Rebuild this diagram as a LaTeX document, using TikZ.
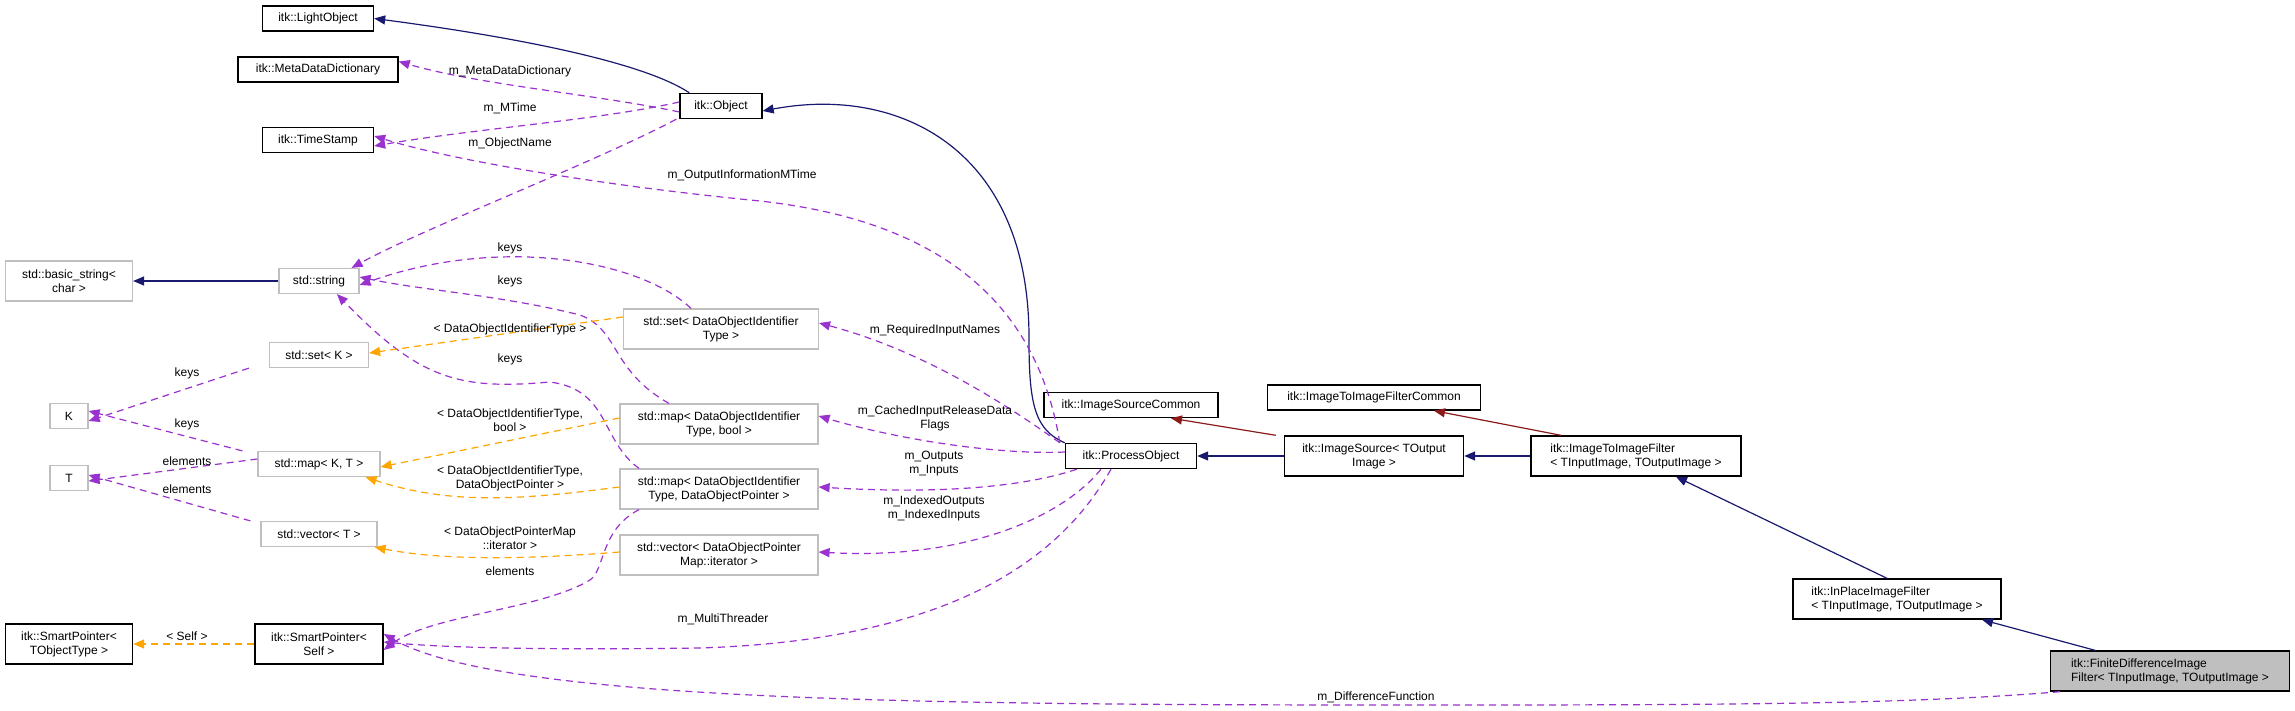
\documentclass[tikz,border=0pt]{standalone}
\usepackage{fontspec}
\setmainfont{Liberation Sans}
\usetikzlibrary{arrows.meta}
\definecolor{navy}{HTML}{191970}
\definecolor{dred}{HTML}{8B1A1A}
\definecolor{purp}{HTML}{9A32CD}
\definecolor{orng}{HTML}{FFA500}
\definecolor{gbox}{HTML}{BFBFBF}
\tikzset{
  cls/.style={draw=black,line width=1.4pt,inner sep=0pt,font=\fontsize{12}{14}\selectfont,align=center,minimum height=25pt,fill=white},
  stdc/.style={cls,draw=gbox,line width=1.2pt},
  tall/.style={minimum height=40pt},
  lbl/.style={font=\fontsize{12}{14}\selectfont,align=center,inner sep=0pt},
  tip/.style={-{Triangle[length=11pt,width=9pt]}},
  inh/.style={tip,draw=navy,line width=1.2pt,-{Triangle[length=11pt,width=9pt,fill=navy]}},
  prot/.style={draw=dred,line width=1.2pt,-{Triangle[length=11pt,width=9pt,fill=dred]}},
  use/.style={draw=purp,line width=1.2pt,dash pattern=on 7pt off 5pt,-{Triangle[length=11pt,width=9pt,fill=purp]}},
  tmpl/.style={draw=orng,line width=1.2pt,dash pattern=on 7pt off 5pt,-{Triangle[length=11pt,width=9pt,fill=orng]}},
}
\begin{document}
\begin{tikzpicture}[x=1pt,y=-1pt]
\useasboundingbox (0,0) rectangle (2295,711);
% nodes
\node[cls,minimum width=111pt] (lo) at (318,18.5) {itk::LightObject};
\node[cls,minimum width=160pt] (mdd) at (318,69.5) {itk::MetaDataDictionary};
\node[cls,minimum width=111pt] (ts) at (318,140) {itk::TimeStamp};
\node[cls,minimum width=82pt] (obj) at (721,106) {itk::Object};
\node[stdc,tall,minimum width=127pt] (bs) at (69,281) {std::basic\_string\textless\\char \textgreater};
\node[stdc,minimum width=80pt] (str) at (319,281) {std::string};
\node[stdc,tall,minimum width=195pt] (setd) at (721,329) {std::set\textless{} DataObjectIdentifier\\Type \textgreater};
\node[stdc,minimum width=99pt] (setk) at (319,355) {std::set\textless{} K \textgreater};
\node[stdc,minimum width=38pt] (K) at (69,416) {K};
\node[stdc,minimum width=122pt] (mapkt) at (319,464) {std::map\textless{} K, T \textgreater};
\node[stdc,minimum width=38pt] (T) at (69,478) {T};
\node[stdc,minimum width=116pt] (vect) at (319,534) {std::vector\textless{} T \textgreater};
\node[cls,tall,minimum width=127pt] (spt) at (69,644) {itk::SmartPointer\textless\\TObjectType \textgreater};
\node[cls,tall,minimum width=128pt] (sps) at (319,644) {itk::SmartPointer\textless\\Self \textgreater};
\node[stdc,tall,minimum width=198pt] (mapb) at (719,424) {std::map\textless{} DataObjectIdentifier\\Type, bool \textgreater};
\node[stdc,tall,minimum width=198pt] (mapd) at (719,489) {std::map\textless{} DataObjectIdentifier\\Type, DataObjectPointer \textgreater};
\node[stdc,tall,minimum width=198pt] (vecd) at (719,555) {std::vector\textless{} DataObjectPointer\\Map::iterator \textgreater};
\node[cls,minimum width=131pt] (po) at (1131,456) {itk::ProcessObject};
\node[cls,minimum width=174pt] (isc) at (1131,405) {itk::ImageSourceCommon};
\node[cls,minimum width=213pt] (itifc) at (1374,397.5) {itk::ImageToImageFilterCommon};
\node[cls,tall,minimum width=179pt] (is) at (1374,456) {itk::ImageSource\textless{} TOutput\\Image \textgreater};
\node[cls,tall,minimum width=210pt,align=left] (itif) at (1636,456) {itk::ImageToImageFilter\\\textless{} TInputImage, TOutputImage \textgreater};
\node[cls,tall,minimum width=208pt,align=left] (ipf) at (1897,599) {itk::InPlaceImageFilter\\\textless{} TInputImage, TOutputImage \textgreater};
\node[cls,tall,minimum width=239pt,align=left,fill=gbox] (fd) at (2170,671) {itk::FiniteDifferenceImage\\Filter\textless{} TInputImage, TOutputImage \textgreater};
% inheritance
\draw[inh] ([xshift=10pt]obj.north west) .. controls (640,60) and (500,35) .. (lo.east);
\draw[inh] (po.north west) .. controls (1035,430) and (1029,405) .. (1029,340) .. controls (1030,150) and (900,85) .. ([yshift=-5pt]obj.east);
\draw[inh] (str.west) -- (bs.east);
\draw[inh] (is.west) -- (po.east);
\draw[inh] (itif.west) -- (is.east);
\draw[inh] ([xshift=-10pt]ipf.north) -- ([xshift=40pt]itif.south);
\draw[inh] ([xshift=-75pt]fd.north) -- ([xshift=85pt]ipf.south);
\draw[prot] ([xshift=-8pt]is.north west) -- ([xshift=40pt]isc.south);
\draw[prot] ([xshift=-75pt]itif.north) -- ([xshift=60pt]itifc.south);
% usage
\draw[use] ([yshift=-6pt]obj.west) .. controls (600,95) and (480,85) .. ([yshift=8pt]mdd.east);
\draw[use] ([yshift=4pt]obj.west) .. controls (600,120) and (480,128) .. ([yshift=-6pt]ts.east);
\draw[use] ([xshift=-3pt]obj.south west) .. controls (600,160) and (420,230) .. ([xshift=-8pt]str.north east);
\draw[use] ([xshift=-5pt]po.north west) .. controls (1040,320) and (960,220) .. (750,200) .. controls (600,185) and (450,160) .. ([yshift=4pt]ts.east);
\draw[use] ([xshift=-30pt]setd.north) .. controls (640,260) and (500,235) .. ([yshift=-4pt]str.east);
\draw[use] ([xshift=-50pt]mapb.north) .. controls (610,370) and (620,330) .. (580,315) .. controls (500,295) and (420,290) .. ([yshift=4pt]str.east);
\draw[use] ([xshift=-80pt]mapd.north) .. controls (600,440) and (610,390) .. (550,382) .. controls (460,390) and (420,380) .. ([xshift=18pt]str.south);
\draw[use] ([xshift=-80pt]mapd.south) .. controls (600,530) and (605,570) .. (590,580) .. controls (540,610) and (430,615) .. ([yshift=-6pt]sps.east);
\draw[use] ([xshift=-20pt]setk.south west) -- ([yshift=-5pt]K.east);
\draw[use] ([xshift=-15pt]mapkt.north west) -- ([yshift=5pt]K.east);
\draw[use] ([yshift=5pt]mapkt.west) -- ([yshift=-3pt]T.east);
\draw[use] ([xshift=-10pt]vect.north west) -- ([yshift=3pt]T.east);
\draw[use] ([xshift=-5pt]po.north west) .. controls (1000,400) and (920,350) .. ([yshift=6pt]setd.east);
\draw[use] ([yshift=4pt]po.west) .. controls (1000,455) and (900,440) .. ([yshift=8pt]mapb.east);
\draw[use] ([xshift=12pt]po.south west) .. controls (1030,485) and (950,495) .. ([yshift=2pt]mapd.east);
\draw[use] ([xshift=-30pt]po.south) .. controls (1060,520) and (960,560) .. ([yshift=3pt]vecd.east);
\draw[use] ([xshift=-20pt]po.south) .. controls (1060,560) and (950,640) .. (700,648) .. controls (550,650) and (450,648) .. ([yshift=2pt]sps.east);
\draw[use] ([xshift=10pt]fd.south west) .. controls (1900,705) and (1700,705) .. (1400,705) .. controls (900,705) and (500,700) .. ([yshift=10pt]sps.east);
% templates
\draw[tmpl] ([yshift=12pt]setd.west) -- ([yshift=2pt]setk.east);
\draw[tmpl] ([yshift=6pt]mapb.west) -- ([yshift=-3pt]mapkt.east);
\draw[tmpl] ([yshift=2pt]mapd.west) .. controls (520,500) and (450,505) .. ([xshift=-15pt]mapkt.south east);
\draw[tmpl] ([yshift=3pt]vecd.west) .. controls (520,560) and (440,560) .. ([xshift=-3pt]vect.south east);
\draw[tmpl] (sps.west) -- (spt.east);
% labels
\node[lbl] (l1) at (510,71) {m\_MetaDataDictionary};
\node[lbl] (l2) at (510,108) {m\_MTime};
\node[lbl] (l3) at (510,143) {m\_ObjectName};
\node[lbl] (l4) at (742,175) {m\_OutputInformationMTime};
\node[lbl] (l5) at (510,248) {keys};
\node[lbl] (l6) at (510,281) {keys};
\node[lbl] (l7) at (510,329) {\textless{} DataObjectIdentifierType \textgreater};
\node[lbl] (l8) at (510,359) {keys};
\node[lbl] (l9) at (187,373) {keys};
\node[lbl] (l10) at (187,424) {keys};
\node[lbl] (l11) at (187,461) {elements};
\node[lbl] (l12) at (187,489) {elements};
\node[lbl] (l13) at (510,420) {\textless{} DataObjectIdentifierType,\\bool \textgreater};
\node[lbl] (l14) at (510,478) {\textless{} DataObjectIdentifierType,\\DataObjectPointer \textgreater};
\node[lbl] (l15) at (510,538) {\textless{} DataObjectPointerMap\\::iterator \textgreater};
\node[lbl] (l16) at (510,571) {elements};
\node[lbl] (l17) at (187,636) {\textless{} Self \textgreater};
\node[lbl] (l18) at (723,619) {m\_MultiThreader};
\node[lbl] (l19) at (935,330) {m\_RequiredInputNames};
\node[lbl] (l20) at (935,418) {m\_CachedInputReleaseData\\Flags};
\node[lbl] (l21) at (934,464) {m\_Outputs\\m\_Inputs};
\node[lbl] (l22) at (934,508) {m\_IndexedOutputs\\m\_IndexedInputs};
\node[lbl] (l23) at (1376,697) {m\_DifferenceFunction};
\end{tikzpicture}
\end{document}
